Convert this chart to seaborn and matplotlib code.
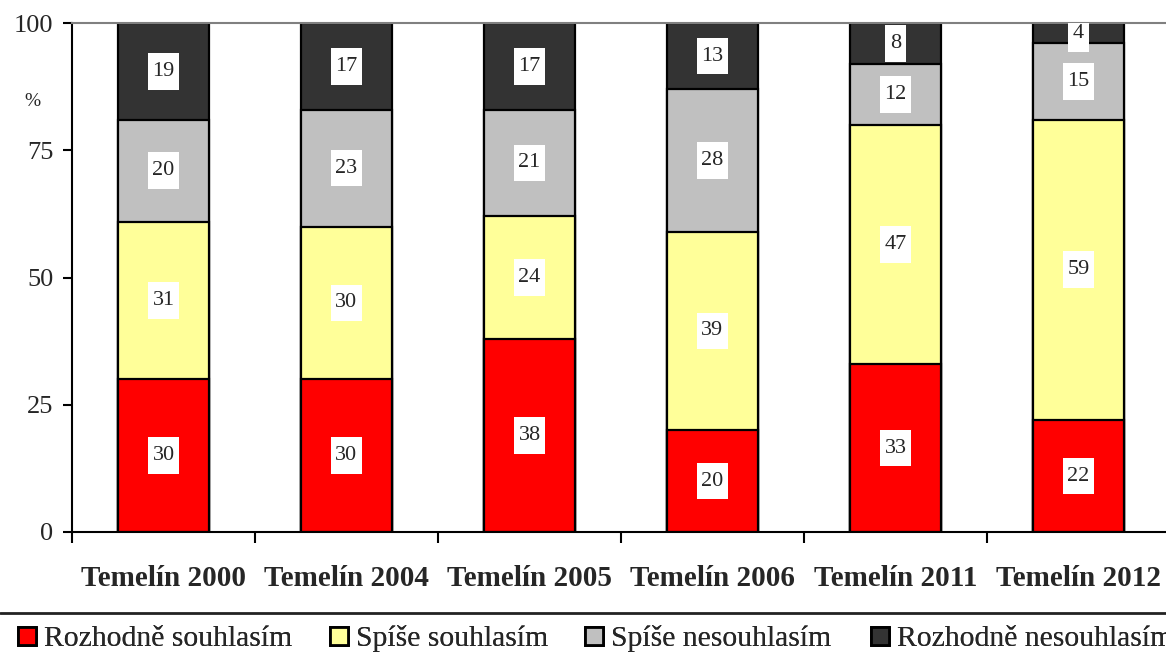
import matplotlib
matplotlib.use("agg")
import matplotlib.pyplot as plt
from matplotlib.lines import Line2D
from matplotlib.path import Path
import seaborn as sns
import pandas as pd
import numpy as np

categories = ["Temelín 2000", "Temelín 2004", "Temelín 2005",
              "Temelín 2006", "Temelín 2011", "Temelín 2012"]
series = ["Rozhodně souhlasím", "Spíše souhlasím",
          "Spíše nesouhlasím", "Rozhodně nesouhlasím"]
rozhodne_souhlasim = [30, 30, 38, 20, 33, 22]
spise_souhlasim = [31, 30, 24, 39, 47, 59]
spise_nesouhlasim = [20, 23, 21, 28, 12, 15]
rozhodne_nesouhlasim = [19, 17, 17, 13, 8, 4]
colors = ["#FF0000", "#FFFF99", "#C0C0C0", "#333333"]

sns.set_style("white")
plt.rcParams["font.family"] = ["Liberation Serif", "DejaVu Serif"]


def tall_box(x0, y0, width, height, mutation_size):
    # white label box, narrow at the sides and tall above/below the digits
    px, py = 0.2 * mutation_size, 0.4 * mutation_size
    x1, y1 = x0 + width + px, y0 + height + py
    x0, y0 = x0 - px, y0 - py
    return Path([(x0, y0), (x1, y0), (x1, y1), (x0, y1), (x0, y0)], closed=True)


values = [rozhodne_souhlasim, spise_souhlasim, spise_nesouhlasim, rozhodne_nesouhlasim]
df = pd.DataFrame({"cat": categories})
cum = np.cumsum(np.array(values), axis=0)

fig = plt.figure(figsize=(11.66, 6.63), dpi=100)
ax = fig.add_axes([72 / 1166, 1 - 532 / 663, 1098 / 1166, 509 / 663])

# draw cumulative layers from top down so each one covers the next
for i in range(3, -1, -1):
    df["v"] = cum[i]
    sns.barplot(data=df, x="cat", y="v", color=colors[i], width=0.5,
                edgecolor="black", linewidth=1.6, saturation=1, ax=ax, zorder=2)

for i in range(4):
    bottoms = cum[i] - np.array(values[i])
    for j, v in enumerate(values[i]):
        ax.text(j, bottoms[j] + v / 2, str(v), ha="center", va="center",
                fontsize=16, zorder=5, clip_on=True,
                bbox=dict(boxstyle=tall_box, fc="white", ec="none"))

ax.set_xlim(-0.5, 5.5)
ax.set_ylim(0, 100)
ax.set_yticks([0, 25, 50, 75, 100])
ax.set_xlabel("")
ax.set_ylabel("")
ax.set_xticks(range(6))
ax.set_xticklabels(categories, fontsize=21, fontweight="bold")
ax.set_xticks(np.arange(-0.5, 6, 1), minor=True)
ax.tick_params(axis="x", which="major", length=0, pad=24)
ax.tick_params(axis="x", which="minor", length=8, width=1.5, direction="out",
               bottom=True, color="black")
ax.tick_params(axis="y", length=6.5, width=1.5, direction="out", left=True,
               labelsize=19, color="black", pad=7)

for s in ["left", "bottom"]:
    ax.spines[s].set_color("black")
    ax.spines[s].set_linewidth(1.5)
ax.spines["right"].set_visible(False)
ax.spines["top"].set_color("#808080")
ax.spines["top"].set_linewidth(1.5)

fig.text(32 / 1166, 1 - 101 / 663, "%", fontsize=14, ha="center", va="center")

# separator above the legend
fig.add_artist(Line2D([0, 1], [1 - 613 / 663, 1 - 613 / 663], color="#222222",
                      lw=2, transform=fig.transFigure))

# legend entries spaced like the original (one small legend per entry)
legend_x = [17.5, 329.5, 584.5, 870.5]
for c, name, lx in zip(colors, series, legend_x):
    h = Line2D([], [], marker="s", linestyle="none", markersize=13.5,
               markerfacecolor=c, markeredgecolor="black", markeredgewidth=2)
    fig.add_artist(fig.legend([h], [name], loc="center left",
                              bbox_to_anchor=(lx / 1166, 1 - 639 / 663),
                              frameon=False, fontsize=21.3, handlelength=0.66,
                              handletextpad=0.24, borderaxespad=0, borderpad=0))

fig.savefig("out.png", dpi=100)
